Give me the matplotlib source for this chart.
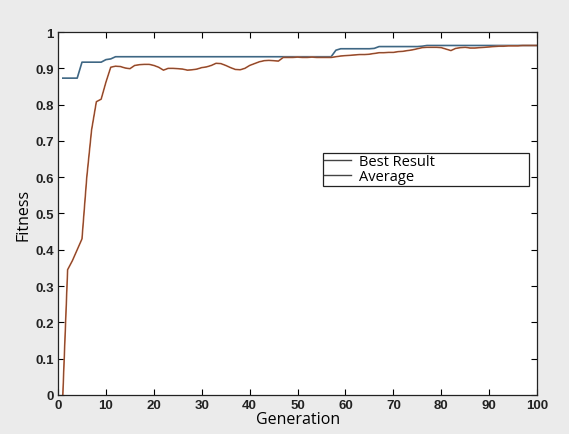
import matplotlib.pyplot as plt
from matplotlib.lines import Line2D

# Data
generation = list(range(1, 101))

best_result = [
    0.873, 0.873, 0.873, 0.873, 0.917, 0.917, 0.917, 0.917, 0.917, 0.924,
    0.926, 0.932, 0.932, 0.932, 0.932, 0.932, 0.932, 0.932, 0.932, 0.932,
    0.932, 0.932, 0.932, 0.932, 0.932, 0.932, 0.932, 0.932, 0.932, 0.932,
    0.932, 0.932, 0.932, 0.932, 0.932, 0.932, 0.932, 0.932, 0.932, 0.932,
    0.932, 0.932, 0.932, 0.932, 0.932, 0.932, 0.932, 0.932, 0.932, 0.932,
    0.932, 0.932, 0.932, 0.932, 0.932, 0.932, 0.932, 0.950, 0.954, 0.954,
    0.954, 0.954, 0.954, 0.954, 0.954, 0.955, 0.960, 0.960, 0.960, 0.960,
    0.960, 0.960, 0.960, 0.960, 0.960, 0.961, 0.963, 0.963, 0.963, 0.963,
    0.963, 0.963, 0.963, 0.963, 0.963, 0.963, 0.963, 0.963, 0.963, 0.963,
    0.963, 0.963, 0.963, 0.963, 0.963, 0.963, 0.963, 0.963, 0.963, 0.963,
]

average = [
    0.000, 0.345, 0.370, 0.400, 0.430, 0.600, 0.730, 0.808, 0.815, 0.862,
    0.903, 0.906, 0.905, 0.901, 0.899, 0.908, 0.910, 0.911, 0.911, 0.908,
    0.903, 0.895, 0.900, 0.900, 0.899, 0.898, 0.895, 0.896, 0.898, 0.902,
    0.904, 0.908, 0.914, 0.913, 0.908, 0.902, 0.897, 0.896, 0.900, 0.908,
    0.913, 0.918, 0.921, 0.922, 0.921, 0.920, 0.930, 0.930, 0.930, 0.931,
    0.930, 0.930, 0.931, 0.930, 0.930, 0.930, 0.930, 0.932, 0.934, 0.935,
    0.936, 0.937, 0.938, 0.938, 0.939, 0.941, 0.943, 0.943, 0.944, 0.944,
    0.946, 0.947, 0.949, 0.951, 0.954, 0.957, 0.958, 0.958, 0.958, 0.957,
    0.953, 0.949, 0.955, 0.957, 0.958, 0.956, 0.956, 0.957, 0.958, 0.959,
    0.960, 0.961, 0.961, 0.962, 0.962, 0.962, 0.963, 0.963, 0.963, 0.963,
]

xticks = list(range(0, 101, 10))
yticks = [0, 0.1, 0.2, 0.3, 0.4, 0.5, 0.6, 0.7, 0.8, 0.9, 1]

plt.rcParams['font.family'] = ['Liberation Sans', 'DejaVu Sans']

fig = plt.figure(figsize=(5.69, 4.35), dpi=100, facecolor='#ebebeb')
ax = fig.add_axes([0.102, 0.09, 0.842, 0.834])
ax.set_facecolor('white')

ax.plot(generation, best_result, color='#3f6784', lw=1.2)
ax.plot(generation, average, color='#c86a42', lw=1.2)
ax.plot(generation, average, color='#5a3526', lw=0.4)

ax.set_xlim(0, 100)
ax.set_ylim(0, 1)
ax.set_xticks(xticks)
ax.set_yticks(yticks)
ax.set_yticklabels(['0', '0.1', '0.2', '0.3', '0.4', '0.5', '0.6', '0.7', '0.8', '0.9', '1'])
ax.tick_params(direction='in', top=True, right=True, length=4, width=0.8,
               labelsize=9.5, pad=3)
for lbl in ax.get_xticklabels() + ax.get_yticklabels():
    lbl.set_fontweight('bold')
    lbl.set_color('#222222')
for sp in ax.spines.values():
    sp.set_linewidth(0.9)
    sp.set_color('#222222')

ax.set_xlabel('Generation', fontsize=11.5, family=['Open Sans', 'DejaVu Sans'], labelpad=0)
ax.set_ylabel('Fitness', fontsize=11.5, family=['Open Sans', 'DejaVu Sans'], labelpad=3)

handles = [Line2D([], [], color='#444444', lw=1.0), Line2D([], [], color='#444444', lw=1.0)]
leg = ax.legend(handles, ['Best Result', 'Average'], loc='lower left',
                bbox_to_anchor=(0.553, 0.576, 0.43, 0.085), mode='expand',
                borderaxespad=0, fancybox=False, framealpha=1, edgecolor='#222222',
                borderpad=0.1, labelspacing=0.0, handlelength=1.8, handletextpad=0.6,
                prop={'family': ['Open Sans', 'DejaVu Sans'], 'size': 10.5})
leg.get_frame().set_linewidth(0.9)

fig.savefig('out.png', dpi=100, facecolor=fig.get_facecolor())
